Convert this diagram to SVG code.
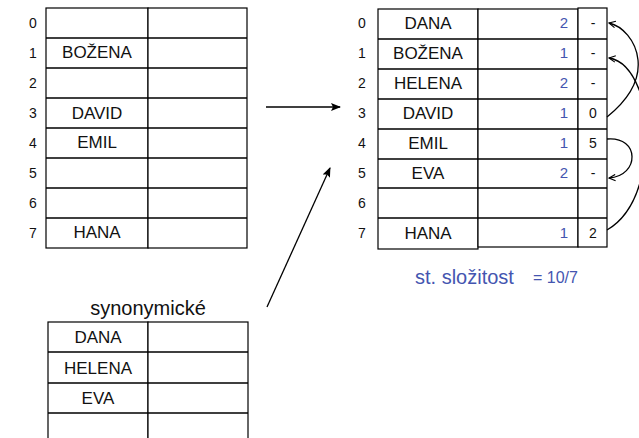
<svg xmlns="http://www.w3.org/2000/svg" width="639" height="438" viewBox="0 0 639 438">
<defs>
<style>
.cell{fill:#fff;stroke:#000;stroke-width:1.2}
.t{font-family:"Liberation Sans",Arial,sans-serif;fill:#111}
.nm{font-size:17px;text-anchor:middle}
.ix{font-size:14px;text-anchor:middle}
.bl{font-size:15px;fill:#4455b0;text-anchor:end}
.nx{font-size:14px;text-anchor:middle}
.ln{fill:none;stroke:#000;stroke-width:1.3}
</style>
<marker id="fa" viewBox="0 0 10 10" refX="9" refY="5" markerWidth="10" markerHeight="10" markerUnits="userSpaceOnUse" orient="auto">
<path d="M0,1 L10,5 L0,9 L2,5 Z" fill="#000"/>
</marker>
<marker id="oa" viewBox="0 0 10 10" refX="9" refY="5" markerWidth="8" markerHeight="8" markerUnits="userSpaceOnUse" orient="auto">
<path d="M1,1 L9,5 L1,9" fill="none" stroke="#000" stroke-width="1.4"/>
</marker>
</defs>
<rect width="639" height="438" fill="#fff"/>

<g id="left-table">
<rect class="cell" x="46" y="8" width="102" height="240"/>
<rect class="cell" x="148" y="8" width="99" height="240"/>
<path class="ln" d="M46,38H247M46,68H247M46,98H247M46,128H247M46,158H247M46,188H247M46,218H247" stroke-width="1.2"/>
<g class="t ix">
<text x="33" y="28">0</text><text x="33" y="58">1</text><text x="33" y="88">2</text><text x="33" y="118">3</text>
<text x="33" y="148">4</text><text x="33" y="178">5</text><text x="33" y="208">6</text><text x="33" y="238">7</text>
</g>
<g class="t nm">
<text x="97" y="58">BOŽENA</text>
<text x="97" y="119">DAVID</text>
<text x="97" y="148">EMIL</text>
<text x="97" y="238">HANA</text>
</g>
</g>

<g id="right-table">
<rect class="cell" x="378" y="9" width="100" height="240"/>
<rect class="cell" x="478" y="9" width="100" height="238"/>
<rect class="cell" x="578" y="8" width="29" height="239"/>
<path class="ln" d="M378,39H607M378,69H607M378,99H607M378,129H607M378,159H607M378,188H607M378,218H607" stroke-width="1.2"/>
<g class="t ix">
<text x="362" y="28">0</text><text x="362" y="58">1</text><text x="362" y="88">2</text><text x="362" y="118">3</text>
<text x="362" y="148">4</text><text x="362" y="178">5</text><text x="362" y="208">6</text><text x="362" y="238">7</text>
</g>
<g class="t nm">
<text x="428" y="29">DANA</text>
<text x="428" y="59">BOŽENA</text>
<text x="428" y="89">HELENA</text>
<text x="428" y="119">DAVID</text>
<text x="428" y="149">EMIL</text>
<text x="428" y="179">EVA</text>
<text x="428" y="239">HANA</text>
</g>
<g class="t bl">
<text x="568" y="28">2</text>
<text x="568" y="58">1</text>
<text x="568" y="88">2</text>
<text x="568" y="118">1</text>
<text x="568" y="148">1</text>
<text x="568" y="178">2</text>
<text x="568" y="238">1</text>
</g>
<g class="t nx">
<text x="593" y="28">-</text>
<text x="593" y="58">-</text>
<text x="593" y="88">-</text>
<text x="593" y="118">0</text>
<text x="593" y="148">5</text>
<text x="593" y="178">-</text>
<text x="593" y="238">2</text>
</g>
</g>

<g id="complexity">
<text class="t" x="415" y="284" font-size="20" style="fill:#4455b0">st. složitost</text>
<text class="t" x="533" y="283" font-size="16" style="fill:#4455b0">= 10/7</text>
</g>

<g id="synonym-table">
<text class="t" x="148" y="315" font-size="20" text-anchor="middle">synonymické</text>
<rect class="cell" x="48" y="322" width="100" height="130"/>
<rect class="cell" x="148" y="322" width="100" height="130"/>
<path class="ln" d="M48,352H248M48,383H248M48,413H248" stroke-width="1.2"/>
<g class="t nm">
<text x="98" y="343">DANA</text>
<text x="98" y="374">HELENA</text>
<text x="98" y="404">EVA</text>
</g>
</g>

<g id="connectors">
<path class="ln" d="M266,107 L340,107" marker-end="url(#fa)"/>
<path class="ln" d="M267,307 L330,168" marker-end="url(#fa)"/>
<path class="ln" d="M607,117 C628,100 640,80 638,60 C636,40 622,26 609,23" marker-end="url(#oa)"/>
<path class="ln" d="M607,230 C650,205 652,125 640,92 C632,70 622,60 609,58" marker-end="url(#oa)"/>
<path class="ln" d="M607,139 C640,136 640,176 609,178" marker-end="url(#oa)"/>
</g>
</svg>
